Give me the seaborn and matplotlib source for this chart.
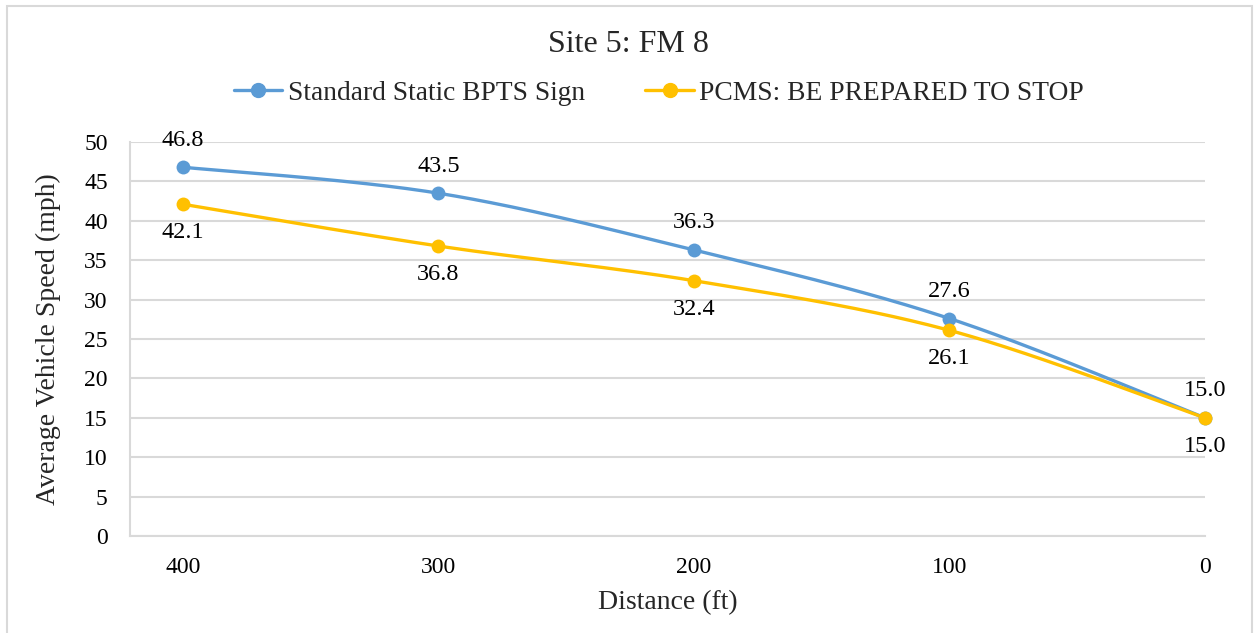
import matplotlib
matplotlib.use("Agg")
import matplotlib.pyplot as plt
from matplotlib.lines import Line2D
from matplotlib.patches import Rectangle
import numpy as np
import pandas as pd
import seaborn as sns

# ── Data ──────────────────────────────────────────────────────────────────────
distance = [400, 300, 200, 100, 0]
static_speed = [46.8, 43.5, 36.3, 27.6, 15.0]
pcms_speed = [42.1, 36.8, 32.4, 26.1, 15.0]
series_names = ["Standard Static BPTS Sign", "PCMS: BE PREPARED TO STOP"]
y_ticks = [0, 5, 10, 15, 20, 25, 30, 35, 40, 45, 50]

BLUE = "#5B9BD5"
GOLD = "#FFC000"
GRID = "#D9D9D9"

sns.set_theme(style="white")
plt.rcParams["font.family"] = ["Liberation Serif", "DejaVu Serif"]


def smooth(xs, ys, sx, sy, n=60):
    """Excel-like smoothed line: cubic Bezier with Catmull-Rom control points."""
    px = np.asarray(xs, float) * sx
    py = np.asarray(ys, float) * sy
    pts = np.column_stack([px, py])
    out = []
    for i in range(len(pts) - 1):
        p0 = pts[i - 1] if i > 0 else pts[i]
        p1, p2 = pts[i], pts[i + 1]
        p3 = pts[i + 2] if i + 2 < len(pts) else pts[i + 1]
        c1 = p1 + (p2 - p0) / 6.0
        c2 = p2 - (p3 - p1) / 6.0
        t = np.linspace(0, 1, n)[:, None]
        seg = ((1 - t) ** 3) * p1 + 3 * ((1 - t) ** 2) * t * c1 + 3 * (1 - t) * t ** 2 * c2 + t ** 3 * p2
        out.append(seg if i == 0 else seg[1:])
    seg = np.vstack(out)
    return seg[:, 0] / sx, seg[:, 1] / sy


fig = plt.figure(figsize=(12.57, 6.33), dpi=100)
ax = fig.add_axes([0.1034, 0.1532, 0.8552, 0.6225])

XMAX = 420.7
ax.set_xlim(XMAX, 0)
ax.set_ylim(0, 50)

# pixel scale factors (approx) so smoothing happens in screen space
sx = 1075 / XMAX
sy = 394 / 50

for ys, col in [(static_speed, BLUE), (pcms_speed, GOLD)]:
    cx, cy = smooth(distance, ys, sx, sy)
    sns.lineplot(x=cx, y=cy, ax=ax, color=col, linewidth=2.4, sort=False,
                 estimator=None, zorder=3)
    sns.scatterplot(x=distance, y=ys, ax=ax, color=col, s=100, edgecolor=col,
                    linewidth=0, zorder=4, clip_on=False)

# data labels
for x, y in zip(distance, static_speed):
    ax.annotate(f"{y:.1f}", (x, y), xytext=(0, 12), textcoords="offset points",
                ha="center", va="bottom", fontsize=17.5, color="black", annotation_clip=False)
for x, y in zip(distance, pcms_speed):
    ax.annotate(f"{y:.1f}", (x, y), xytext=(0, -13), textcoords="offset points",
                ha="center", va="top", fontsize=17.5, color="black", annotation_clip=False)

ax.set_yticks(y_ticks)
ax.set_xticks(distance)
ax.set_xticklabels([str(d) for d in distance])
ax.yaxis.grid(True, color=GRID, linewidth=1.5)
ax.xaxis.grid(False)
ax.set_axisbelow(True)
ax.tick_params(axis="both", length=0, labelsize=17, colors="black")
ax.tick_params(axis="x", pad=15)
ax.tick_params(axis="y", pad=16)
for side in ["top", "right"]:
    ax.spines[side].set_visible(False)
for side in ["left", "bottom"]:
    ax.spines[side].set_color(GRID)
    ax.spines[side].set_linewidth(1.5)

ax.set_xlabel("Distance (ft)", fontsize=20, labelpad=9)
ax.set_ylabel("Average Vehicle Speed (mph)", fontsize=20, labelpad=17)

fig.text(0.5, 1 - 44 / 633, "Site 5: FM 8", ha="center", va="center", fontsize=23)

handles = [
    Line2D([], [], color=BLUE, marker="o", markersize=10, linewidth=2.4),
    Line2D([], [], color=GOLD, marker="o", markersize=10, linewidth=2.4),
]
fig.legend(handles, series_names, loc="center", bbox_to_anchor=(659 / 1257, 1 - 93 / 633),
           ncol=2, frameon=False, fontsize=19.8, handlelength=1.75, columnspacing=2.2,
           handletextpad=0.2)

# outer frame
fig.patches.append(Rectangle((7 / 1257, -0.05), 1245 / 1257, 1.05 - 6 / 633,
                             transform=fig.transFigure, fill=False,
                             edgecolor=GRID, linewidth=1.5))

fig.savefig("out.png", dpi=100)
plt.close(fig)
